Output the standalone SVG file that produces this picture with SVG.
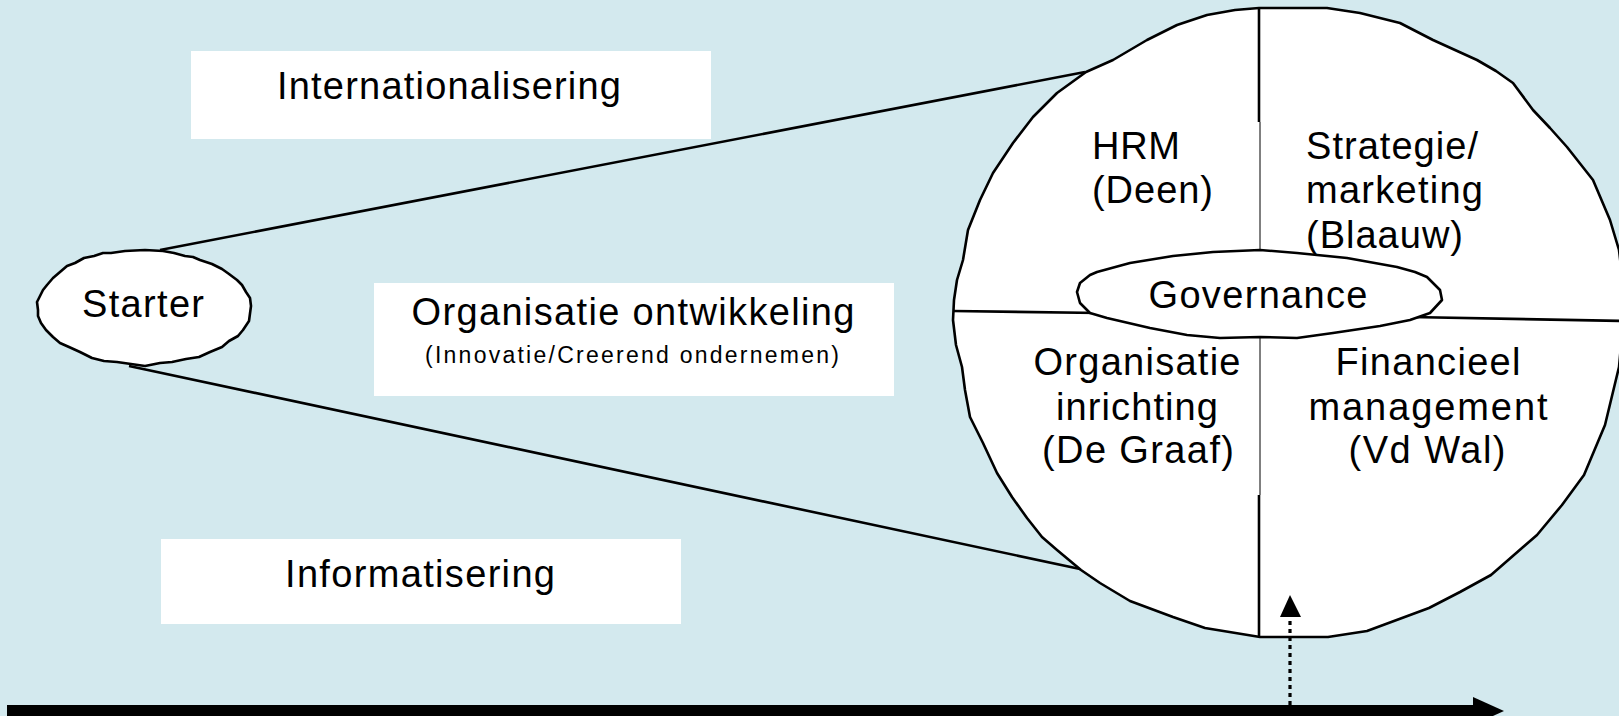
<svg xmlns="http://www.w3.org/2000/svg" width="1619" height="716" viewBox="0 0 1619 716">
<style>
text{font-family:"Liberation Sans",Arial,sans-serif;fill:#000;font-size:38px}
.small{font-size:23px}
.mid{text-anchor:middle}
.box{fill:#fff;stroke:none}
.shape{fill:#fff;stroke:#000;stroke-width:2.6;stroke-linejoin:round}
.ln{stroke:#000;stroke-width:2.6;fill:none}
.thin{stroke:#000;stroke-width:1;fill:none}
</style>
<rect x="0" y="0" width="1619" height="716" fill="#D3E9EE"/>

<g id="connectors">
<line class="ln" x1="160" y1="250" x2="1085" y2="72"/>
<line class="ln" x1="129" y1="366" x2="1080" y2="569"/>
</g>

<g id="box-internationalisering">
<rect class="box" x="191" y="51" width="520" height="88"/>
<text class="mid" x="449" y="99" textLength="344" lengthAdjust="spacing">Internationalisering</text>
</g>

<g id="box-organisatie-ontwikkeling">
<rect class="box" x="374" y="283" width="520" height="113"/>
<text class="mid" x="633" y="325" textLength="443" lengthAdjust="spacing">Organisatie ontwikkeling</text>
<text class="mid small" x="632" y="363" textLength="414" lengthAdjust="spacing">(Innovatie/Creerend ondernemen)</text>
</g>

<g id="box-informatisering">
<rect class="box" x="161" y="539" width="520" height="85"/>
<text class="mid" x="420" y="587" textLength="270" lengthAdjust="spacing">Informatisering</text>
</g>

<g id="starter">
<path class="shape" d="M251,306 L249,321 L243,330 L238,336 L229,341 L222,347 L210,352 L199,357 L186,359 L172,362 L160,363 L145,366 L131,364 L117,362 L104,361 L92,358 L80,352 L69,347 L60,343 L53,337 L46,330 L41,323 L38,316 L38,310 L37,302 L40,296 L43,290 L47,285 L53,278 L60,272 L67,266 L75,263 L84,258 L94,256 L103,253 L111,253 L125,251 L145,250 L163,251 L174,253 L185,256 L193,257 L200,260 L212,264 L222,269 L229,274 L237,280 L242,285 L246,292 L250,298 Z"/>
<text class="mid" x="143" y="317" textLength="122" lengthAdjust="spacing">Starter</text>
</g>

<g id="circle">
<path class="shape" d="M1259,8 L1293,8 L1327,8 L1360,13 L1400,23 L1433,40 L1477,60 L1496,71 L1513,83 L1533,110 L1550,128 L1567,147 L1593,180 L1610,220 L1619,250 L1625,300 L1622,335 L1619,367 L1605,425 L1584,475 L1562,505 L1537,535 L1491,575 L1460,592 L1429,608 L1367,631 L1328,637 L1260,637 L1205,628 L1173,617 L1130,601 L1100,583 L1081,570 L1057,550 L1042,537 L1027,518 L1012,497 L997,473 L983,443 L970,417 L965,390 L962,367 L956,345 L953,320 L954,300 L957,280 L963,260 L968,230 L974,215 L980,200 L993,173 L1013,143 L1033,117 L1057,93 L1086,72 L1113,60 L1147,40 L1177,25 L1207,15 L1235,10 Z"/>
<line class="ln" x1="953" y1="311" x2="1100" y2="313"/>
<line class="ln" x1="1410" y1="317" x2="1625" y2="321"/>
<line class="ln" x1="1259" y1="8" x2="1259" y2="122"/>
<line class="thin" x1="1260" y1="122" x2="1260" y2="251"/>
<line class="thin" x1="1260" y1="337" x2="1260" y2="495"/>
<line class="ln" x1="1259" y1="495" x2="1259" y2="637"/>
</g>

<g id="hrm">
<text x="1092" y="159" textLength="88" lengthAdjust="spacing">HRM</text>
<text x="1092" y="203" textLength="121" lengthAdjust="spacing">(Deen)</text>
</g>

<g id="strategie">
<text x="1306" y="159" textLength="172" lengthAdjust="spacing">Strategie/</text>
<text x="1306" y="203" textLength="177" lengthAdjust="spacing">marketing</text>
<text x="1306" y="248" textLength="157" lengthAdjust="spacing">(Blaauw)</text>
</g>

<g id="organisatie-inrichting">
<text class="mid" x="1137" y="375" textLength="207" lengthAdjust="spacing">Organisatie</text>
<text class="mid" x="1137" y="420" textLength="162" lengthAdjust="spacing">inrichting</text>
<text class="mid" x="1138" y="463" textLength="192" lengthAdjust="spacing">(De Graaf)</text>
</g>

<g id="financieel">
<text class="mid" x="1428" y="375" textLength="185" lengthAdjust="spacing">Financieel</text>
<text class="mid" x="1428" y="420" textLength="239" lengthAdjust="spacing">management</text>
<text class="mid" x="1427" y="463" textLength="157" lengthAdjust="spacing">(Vd Wal)</text>
</g>

<g id="governance">
<path class="shape" d="M1077,292 L1080,283 L1090,275 L1097,272 L1130,263 L1173,256 L1213,252 L1260,250 L1297,253 L1347,258 L1397,267 L1415,272 L1427,277 L1440,290 L1442,300 L1430,313 L1410,320 L1380,326 L1333,333 L1297,338 L1260,337 L1220,338 L1187,335 L1150,328 L1107,318 L1090,313 L1080,303 Z"/>
<text class="mid" x="1258" y="308" textLength="219" lengthAdjust="spacing">Governance</text>
</g>

<g id="arrows">
<rect x="7" y="705" width="1467" height="12" fill="#000"/>
<polygon points="1473,697 1504,711 1473,725" fill="#000"/>
<line x1="1290" y1="705" x2="1290" y2="616" stroke="#000" stroke-width="3.2" stroke-dasharray="4 4"/>
<polygon points="1290,595 1280,617 1301,617" fill="#000"/>
</g>
</svg>
